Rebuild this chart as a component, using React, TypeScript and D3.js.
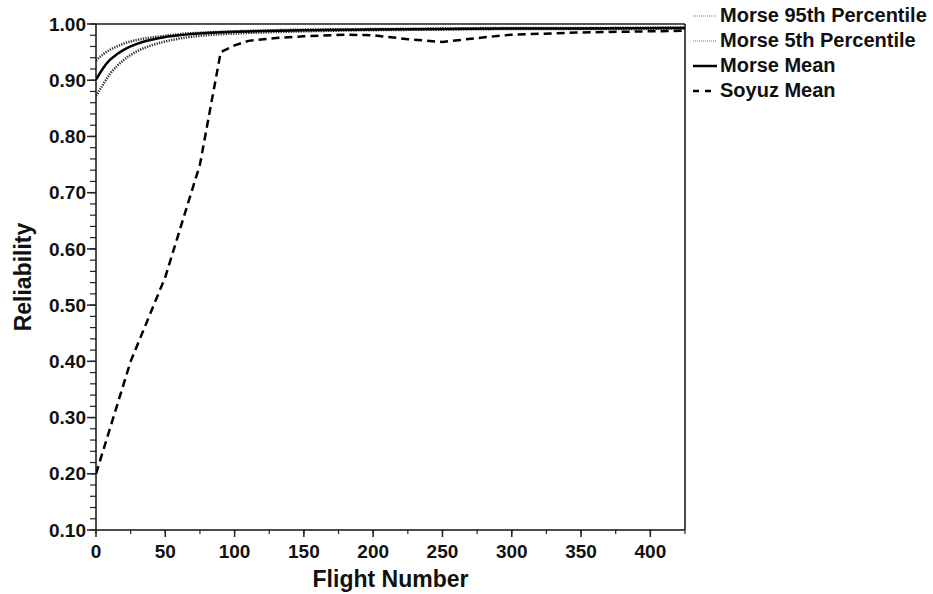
import React from "react";
import * as d3 from "d3";

const xTicks = [0, 50, 100, 150, 200, 250, 300, 350, 400];
const yTicks = [0.1, 0.2, 0.3, 0.4, 0.5, 0.6, 0.7, 0.8, 0.9, 1.0];

const morseFlights = [0, 5, 10, 15, 20, 30, 40, 50, 60, 80, 100, 150, 200, 250, 300, 350, 425];
const morseMean = [0.901, 0.921, 0.936, 0.946, 0.954, 0.965, 0.972, 0.977, 0.98, 0.984, 0.986, 0.989, 0.99, 0.991, 0.992, 0.992, 0.993];
const morse95 = [0.935, 0.946, 0.954, 0.96, 0.965, 0.972, 0.976, 0.979, 0.982, 0.985, 0.987, 0.99, 0.991, 0.992, 0.993, 0.993, 0.994];
const morse5 = [0.872, 0.892, 0.911, 0.925, 0.936, 0.952, 0.962, 0.969, 0.974, 0.98, 0.983, 0.987, 0.989, 0.99, 0.991, 0.991, 0.992];

const soyuzFlights = [0, 25, 50, 75, 90, 100, 110, 130, 150, 180, 200, 225, 250, 275, 300, 350, 425];
const soyuzMean = [0.2, 0.4, 0.55, 0.75, 0.95, 0.962, 0.97, 0.975, 0.978, 0.981, 0.98, 0.973, 0.968, 0.975, 0.981, 0.985, 0.988];

const legendLabels = ["Morse 95th Percentile", "Morse 5th Percentile", "Morse Mean", "Soyuz Mean"];

const W = 933, H = 594;
const M = { left: 96, right: 685, top: 24, bottom: 530 };
const FONT = "'Liberation Sans', Arial, sans-serif";

export default function App() {
  const x = d3.scaleLinear().domain([0, 425]).range([M.left, M.right]);
  const y = d3.scaleLinear().domain([0.1, 1.0]).range([M.bottom, M.top]);

  const smooth = d3.line<[number, number]>().x(d => x(d[0])).y(d => y(d[1])).curve(d3.curveMonotoneX);
  const straight = d3.line<[number, number]>().x(d => x(d[0])).y(d => y(d[1]));

  const zip = (xs: number[], ys: number[]) => xs.map((v, i) => [v, ys[i]] as [number, number]);

  const xMinor = d3.range(0, 426, 25);
  const yMinor = d3.range(0, 46).map(i => 0.1 + i * 0.02).filter(v => v <= 1.0001);

  const styles = [
    { stroke: "#333", width: 2.5, dash: "1.3 1.2", sw: 1.2, sdash: "1 1" },
    { stroke: "#333", width: 2.5, dash: "1.3 1.2", sw: 1.2, sdash: "1 1" },
    { stroke: "#000", width: 2.5, dash: "", sw: 2.5, sdash: "" },
    { stroke: "#000", width: 2.5, dash: "8 5", sw: 2.5, sdash: "6 6" },
  ];

  return (
    <svg width={W} height={H} style={{ position: "absolute", left: 0, top: 0, background: "#fff" }} fontFamily={FONT}>
      <rect x={0} y={0} width={W} height={H} fill="#fff" />
      <defs>
        <clipPath id="plot">
          <rect x={M.left} y={M.top - 2} width={M.right - M.left} height={M.bottom - M.top + 2} />
        </clipPath>
      </defs>

      {yMinor.map((v, i) => (
        <line key={"ym" + i} x1={M.left - 6} x2={M.left} y1={y(v)} y2={y(v)} stroke="#222" strokeWidth={1.2} />
      ))}
      {xMinor.map((v, i) => (
        <line key={"xm" + i} x1={x(v)} x2={x(v)} y1={M.bottom} y2={M.bottom + 4} stroke="#222" strokeWidth={1.2} />
      ))}
      {yTicks.map((v, i) => (
        <g key={"yt" + i}>
          <line x1={M.left - 9} x2={M.left} y1={y(v)} y2={y(v)} stroke="#222" strokeWidth={1.5} />
          <text x={M.left - 10} y={y(v) + 6.7} textAnchor="end" fontSize={19} fontWeight="bold" fill="#111">
            {v.toFixed(2)}
          </text>
        </g>
      ))}
      {xTicks.map((v, i) => (
        <g key={"xt" + i}>
          <line x1={x(v)} x2={x(v)} y1={M.bottom} y2={M.bottom + 7} stroke="#222" strokeWidth={1.5} />
          <text x={x(v)} y={558} textAnchor="middle" fontSize={19} fontWeight="bold" fill="#111">
            {v}
          </text>
        </g>
      ))}

      <g clipPath="url(#plot)">
        <path d={smooth(zip(morseFlights, morse95)) || ""} fill="none" stroke={styles[0].stroke} strokeWidth={styles[0].width} strokeDasharray={styles[0].dash} />
        <path d={smooth(zip(morseFlights, morse5)) || ""} fill="none" stroke={styles[1].stroke} strokeWidth={styles[1].width} strokeDasharray={styles[1].dash} />
        <path d={smooth(zip(morseFlights, morseMean)) || ""} fill="none" stroke={styles[2].stroke} strokeWidth={styles[2].width} />
        <path d={straight(zip(soyuzFlights, soyuzMean)) || ""} fill="none" stroke={styles[3].stroke} strokeWidth={styles[3].width} strokeDasharray={styles[3].dash} />
      </g>

      <line x1={M.left} x2={M.right} y1={M.top} y2={M.top} stroke="#555" strokeWidth={2} />
      <line x1={M.right} x2={M.right} y1={M.top} y2={M.bottom} stroke="#111" strokeWidth={1.5} />
      <line x1={M.left} x2={M.left} y1={M.top} y2={M.bottom} stroke="#111" strokeWidth={1.5} />
      <line x1={M.left} x2={M.right} y1={M.bottom} y2={M.bottom} stroke="#111" strokeWidth={1.5} />

      <text x={(M.left + M.right) / 2} y={587} textAnchor="middle" fontSize={23} fontWeight="bold" fill="#111">
        Flight Number
      </text>
      <text transform={`translate(31,${(M.top + M.bottom) / 2}) rotate(-90)`} textAnchor="middle" fontSize={23} fontWeight="bold" fill="#111">
        Reliability
      </text>

      {legendLabels.map((lab, i) => {
        const by = 22 + i * 25;
        const s = styles[i];
        return (
          <g key={"lg" + i}>
            <line x1={693} x2={717} y1={by - 6} y2={by - 6} stroke={i < 2 ? "#777" : s.stroke} strokeWidth={s.sw} strokeDasharray={s.sdash} />
            <text x={720} y={by} fontSize={20} fontWeight="bold" fill="#111">{lab}</text>
          </g>
        );
      })}
    </svg>
  );
}
